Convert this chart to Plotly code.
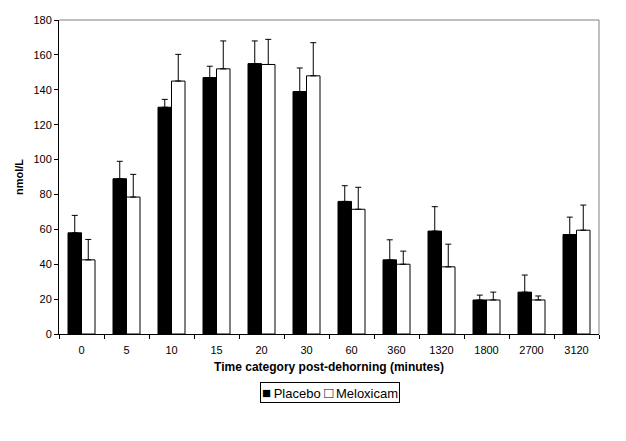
import plotly.graph_objects as go

# time categories (minutes post-dehorning)
categories = ["0", "5", "10", "15", "20", "30", "60", "360", "1320", "1800", "2700", "3120"]

placebo = [58, 89, 130, 147, 155, 139, 76, 42.5, 59, 19.5, 24, 57]
placebo_err = [10, 10, 4.5, 6.5, 13, 13.5, 9, 11.5, 14, 2.8, 9.8, 10]

meloxicam = [42.5, 78.5, 145, 152, 154.5, 148, 71.5, 40, 38.5, 19.5, 19.5, 59.5]
meloxicam_err = [11.7, 13, 15.3, 16, 14.4, 19, 12.6, 7.5, 13, 4.5, 2.3, 14.4]

zeros = [0] * len(categories)

fig = go.Figure()

fig.add_trace(go.Bar(
    x=categories, y=placebo, name="Placebo",
    marker=dict(color="black", line=dict(color="black", width=1)),
    error_y=dict(type="data", array=placebo_err, arrayminus=zeros,
                 color="black", thickness=1, width=3),
))
fig.add_trace(go.Bar(
    x=categories, y=meloxicam, name="Meloxicam",
    marker=dict(color="white", line=dict(color="black", width=1)),
    error_y=dict(type="data", array=meloxicam_err, arrayminus=zeros,
                 color="black", thickness=1, width=3),
))

legend_text = ("<span style='font-size:15px'>■</span>\u2009Placebo\u00a0"
               "<span style='font-size:15px'>□</span>\u2009Meloxicam")

fig.update_layout(
    width=626, height=441,
    # page body adds an 8px offset, margins compensate
    margin=dict(l=51, r=35, t=12, b=115, autoexpand=False),
    paper_bgcolor="white", plot_bgcolor="white",
    barmode="group", bargap=0.4, bargroupgap=0,
    font=dict(family="Liberation Sans, Arial", size=11, color="black"),
    showlegend=False,
    # compact excel-style legend box
    annotations=[
        dict(text=legend_text, xref="paper", yref="paper",
             x=0.502, y=-0.185, xanchor="center", yanchor="middle",
             showarrow=False, font=dict(size=13, color="black"),
             bordercolor="black", borderwidth=1, borderpad=1, bgcolor="white"),
    ],
    # plot area border (top and right in grey)
    shapes=[
        dict(type="line", xref="paper", yref="paper", x0=0, x1=1, y0=1, y1=1,
             line=dict(color="#808080", width=1)),
        dict(type="line", xref="paper", yref="paper", x0=1, x1=1, y0=0, y1=1,
             line=dict(color="#808080", width=1)),
    ],
)

fig.update_xaxes(
    type="category",
    showline=True, linecolor="black", linewidth=1,
    ticks="outside", ticklen=4, tickcolor="black", tickson="boundaries",
    ticklabelstandoff=6,
    showgrid=False,
    title=dict(text="<b>Time category post-dehorning (minutes)</b>",
               font=dict(size=12), standoff=7),
    tickfont=dict(size=11),
)
fig.update_yaxes(
    range=[0, 180], dtick=20,
    showline=True, linecolor="black", linewidth=1,
    ticks="outside", ticklen=4, tickcolor="black",
    showgrid=False, zeroline=False,
    title=dict(text="<b>nmol/L</b>", font=dict(size=11), standoff=7),
    tickfont=dict(size=11),
)

fig.write_html("out.html")
